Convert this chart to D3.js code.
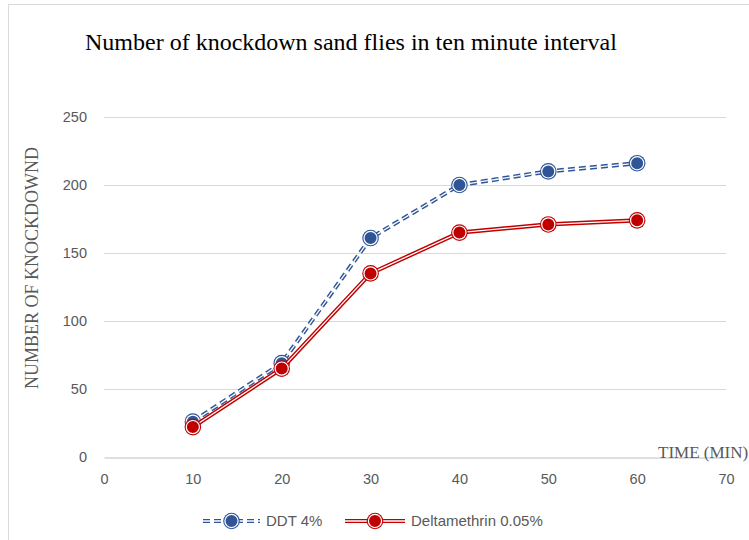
<!DOCTYPE html>
<html lang="en">
<head>
<meta charset="utf-8">
<title>Knockdown sand flies</title>
<script src="https://d3js.org/d3.v7.min.js"></script>
<style>
  body { margin: 0; background: #fff; }
  .tick text { font-family: "Liberation Sans", "DejaVu Sans", sans-serif; font-size: 14.5px; fill: #595959; }
  .serif { font-family: "Liberation Serif", "Times New Roman", serif; }
</style>
</head>
<body>
<svg width="749" height="540"></svg>
<script>
// data
var minutes = [10, 20, 30, 40, 50, 60];
var ddt = [26, 69, 161, 200, 210, 216];
var delta = [22, 65, 135, 165, 171, 174];
var xTicks = [0, 10, 20, 30, 40, 50, 60, 70];
var yTicks = [0, 50, 100, 150, 200, 250];

var series = [
  {name: "DDT 4%", values: ddt, color: "#2f5597", dash: "7,4"},
  {name: "Deltamethrin 0.05%", values: delta, color: "#c00000", dash: null}
];

var svg = d3.select("svg");

// chart frame
svg.append("rect")
  .attr("x", 8.5).attr("y", 4.5)
  .attr("width", 760).attr("height", 560)
  .attr("fill", "none").attr("stroke", "#d9d9d9");

var x = d3.scaleLinear().domain([0, 70]).range([104, 726]);
var y = d3.scaleLinear().domain([0, 250]).range([457, 117]);

// gridlines
svg.append("g")
  .selectAll("line")
  .data(yTicks.filter(function(d) { return d > 0; }))
  .enter().append("line")
    .attr("x1", x(0)).attr("x2", x(70))
    .attr("y1", function(d) { return y(d) + 0.5; })
    .attr("y2", function(d) { return y(d) + 0.5; })
    .attr("stroke", "#d9d9d9").attr("stroke-width", 1);

// axes
var xAxis = svg.append("g")
  .attr("transform", "translate(0," + (y(0) + 0.5) + ")")
  .call(d3.axisBottom(x).tickValues(xTicks).tickSize(0).tickPadding(16));
xAxis.select(".domain").attr("stroke", "#bfbfbf");

var yAxis = svg.append("g")
  .attr("transform", "translate(" + x(0) + ",0)")
  .call(d3.axisLeft(y).tickValues(yTicks).tickSize(0).tickPadding(17));
yAxis.select(".domain").remove();

// titles
svg.append("text").attr("class", "serif")
  .attr("x", 85).attr("y", 50)
  .attr("font-size", 24).attr("fill", "#000")
  .text("Number of knockdown sand flies in ten minute interval");

svg.append("text").attr("class", "serif")
  .attr("transform", "translate(38,268) rotate(-90)")
  .attr("text-anchor", "middle")
  .attr("font-size", 18).attr("fill", "#595959")
  .text("NUMBER OF KNOCKDOWND");

svg.append("text").attr("class", "serif")
  .attr("x", 658).attr("y", 458)
  .attr("font-size", 17).attr("fill", "#595959")
  .text("TIME (MIN)");

// lines and markers
var line = d3.line()
  .x(function(d, i) { return x(minutes[i]); })
  .y(function(d) { return y(d); });

function doubleStroke(g, d, color, dash) {
  g.append("path").attr("d", d).attr("fill", "none")
    .attr("stroke", color).attr("stroke-width", 4.2)
    .attr("stroke-dasharray", dash);
  g.append("path").attr("d", d).attr("fill", "none")
    .attr("stroke", "#fff").attr("stroke-width", 1.3)
    .attr("stroke-dasharray", dash);
}

function marker(g, cx, cy, color) {
  g.append("circle").attr("cx", cx).attr("cy", cy).attr("r", 8.3).attr("fill", color);
  g.append("circle").attr("cx", cx).attr("cy", cy).attr("r", 6.6)
    .attr("fill", "none").attr("stroke", "#fff").attr("stroke-width", 1.2);
}

series.forEach(function(s) {
  var g = svg.append("g");
  doubleStroke(g, line(s.values), s.color, s.dash);
  s.values.forEach(function(v, i) { marker(g, x(minutes[i]), y(v), s.color); });
});

// legend
var legend = [
  {x0: 203, x1: 260, tx: 266},
  {x0: 345, x1: 405, tx: 411}
];
series.forEach(function(s, i) {
  var L = legend[i], ly = 521;
  var g = svg.append("g");
  doubleStroke(g, "M" + L.x0 + "," + ly + "H" + L.x1, s.color, s.dash);
  marker(g, (L.x0 + L.x1) / 2, ly, s.color);
  g.append("text")
    .attr("x", L.tx).attr("y", ly + 5)
    .attr("font-family", "'Liberation Sans', sans-serif")
    .attr("font-size", 15).attr("fill", "#595959")
    .text(s.name);
});
</script>
</body>
</html>
